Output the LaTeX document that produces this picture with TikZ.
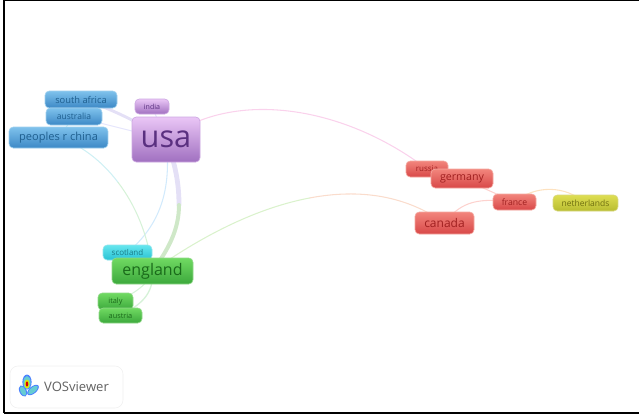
\documentclass[tikz,border=0pt]{standalone}
\usepackage{fontspec}
\setmainfont{Open Sans}
\usetikzlibrary{backgrounds}

\tikzset{
	wordbox/.style 2 args={rounded corners=3.2pt, inner sep=0pt, line width=0.5pt, minimum width=#1*0.75pt, minimum height=#2*0.75pt},
	wordsize/.style={font=\fontsize{#1}{#1}\selectfont},
	bluebox/.style={draw=blueEdge, top color=blueTop, bottom color=blueBot, text=blueTxt},
	purplebox/.style={draw=purpleEdge, top color=purpleTop, bottom color=purpleBot, text=purpleTxt},
	greenbox/.style={draw=greenEdge, top color=greenTop, bottom color=greenBot, text=greenTxt},
	cyanbox/.style={draw=cyanEdge, top color=cyanTop, bottom color=cyanBot, text=cyanTxt},
	redbox/.style={draw=redEdge, top color=redTop, bottom color=redBot, text=redTxt},
	yellowbox/.style={draw=yellowEdge, top color=yellowTop, bottom color=yellowBot, text=yellowTxt},
	link/.style={line width=0.8pt, line cap=round}
}
\definecolor{blueTop}{HTML}{7FC2EC}
\definecolor{blueBot}{HTML}{3C88C6}
\definecolor{blueEdge}{HTML}{A0D0EE}
\definecolor{blueTxt}{HTML}{1F5F8F}
\definecolor{purpleTop}{HTML}{EAC6F6}
\definecolor{purpleBot}{HTML}{A070C0}
\definecolor{purpleEdge}{HTML}{CDA8E2}
\definecolor{purpleTxt}{HTML}{5A3080}
\definecolor{greenTop}{HTML}{70DA62}
\definecolor{greenBot}{HTML}{3CA83C}
\definecolor{greenEdge}{HTML}{90D888}
\definecolor{greenTxt}{HTML}{1A6A1A}
\definecolor{cyanTop}{HTML}{66E6EE}
\definecolor{cyanBot}{HTML}{28C2D4}
\definecolor{cyanEdge}{HTML}{90E4EC}
\definecolor{cyanTxt}{HTML}{1A7C88}
\definecolor{redTop}{HTML}{F2857C}
\definecolor{redBot}{HTML}{D84848}
\definecolor{redEdge}{HTML}{F4A8A0}
\definecolor{redTxt}{HTML}{A02020}
\definecolor{yellowTop}{HTML}{DEDE52}
\definecolor{yellowBot}{HTML}{B8BC30}
\definecolor{yellowEdge}{HTML}{D8D880}
\definecolor{yellowTxt}{HTML}{707010}
\definecolor{linkLav}{HTML}{E4E0F6}
\definecolor{linkLavPale}{HTML}{E6E6FC}
\definecolor{linkSage}{HTML}{CFE8C8}
\definecolor{linkSky}{HTML}{D2EAFC}
\definecolor{linkTeal}{HTML}{CFF0F4}
\definecolor{linkMint}{HTML}{D6F2D8}
\definecolor{linkPink}{HTML}{FAD2EC}
\definecolor{linkLime}{HTML}{DAF2CC}
\definecolor{linkPeach}{HTML}{FADCCC}
\definecolor{linkRose}{HTML}{FDD2CE}
\definecolor{linkOrange}{HTML}{FDE2C0}

\begin{document}
\begin{tikzpicture}[x=0.75pt, y=-0.75pt]
	\useasboundingbox (0,0) rectangle (639,419);

	% clusters
	\node[wordbox={72}{17}, bluebox, wordsize=7] (southafrica) at (81,99.5) {south africa};
	\node[wordbox={56}{17}, bluebox, wordsize=6.4] (australia) at (74,116.5) {australia};
	\node[wordbox={99}{21}, bluebox, wordsize=8.3] (china) at (58.5,137.5) {peoples r china};
	\node[wordbox={34}{15}, purplebox, wordsize=5.3] (india) at (152,106.5) {india};
	\node[wordbox={68}{45}, purplebox, wordsize=23] (usa) at (166,139.5) {usa};
	\node[wordbox={49}{15}, cyanbox, wordsize=6] (scotland) at (127.5,252.5) {scotland};
	\node[wordbox={81}{26}, greenbox, wordsize=12] (england) at (152.5,271) {england};
	\node[wordbox={35}{17}, greenbox, wordsize=5.5] (italy) at (115.5,301.5) {italy};
	\node[wordbox={43}{15}, greenbox, wordsize=5.5] (austria) at (120.5,315.5) {austria};
	\node[wordbox={42}{16}, redbox, wordsize=6] (russia) at (427,169) {russia};
	\node[wordbox={62}{19}, redbox, wordsize=8] (germany) at (462,178.5) {germany};
	\node[wordbox={43}{16}, redbox, wordsize=6.5] (france) at (514.5,202) {france};
	\node[wordbox={65}{16}, yellowbox, wordsize=6.4] (netherlands) at (585.5,203) {netherlands};
	\node[wordbox={59}{22}, redbox, wordsize=9] (canada) at (444.5,223) {canada};

	\coordinate (usaMid) at (179,205);
	\coordinate (chinaMid) at (118.1,182.4);
	\coordinate (canadaMid) at (310,197.9);

	% links stay behind the words
	\begin{scope}[on background layer]
		\draw[link, line width=3.6pt, color=linkLav] (usa.center) .. controls (176,165) and (179,185) .. (usaMid);
		\draw[link, line width=3pt, color=linkSage] (usaMid) .. controls (179,230) and (168,250) .. (england.center);
		\draw[link, line width=2.2pt, color=linkLav] (southafrica.center) .. controls (105,106) and (135,120) .. (usa.center);
		\draw[link, color=linkLavPale] (australia.center) -- (usa.center);
		\draw[link, color=linkTeal] (australia.center) -- (china.center);
		\draw[link, color=linkLavPale] (india.center) -- (usa.center);
		\draw[link, color=linkSky] (usa.center) .. controls (172,190) and (160,225) .. (scotland.center);
		\draw[link, color=linkTeal] (china.center) .. controls (79,144) and (100.75,159.5) .. (chinaMid);
		\draw[link, color=linkMint] (chinaMid) .. controls (135.5,205.25) and (148.5,235.5) .. (england.center);
		\draw[link, color=linkPink] (usa.center) .. controls (230,90) and (340,103) .. (russia.center);
		\draw[link, color=linkLime] (england.center) .. controls (206,233) and (260,207.25) .. (canadaMid);
		\draw[link, color=linkPeach] (canadaMid) .. controls (360,188.5) and (406,195.5) .. (canada.center);
		\draw[link, color=linkMint] (england.center) .. controls (150,280) and (140,292) .. (italy.center);
		\draw[link, line width=1pt, color=linkMint] (england.center) .. controls (154,295) and (140,305) .. (austria.center);
		\draw[link, color=linkRose] (germany.center) -- (france.center);
		\draw[link, color=linkRose] (canada.center) .. controls (462,200) and (480,198) .. (france.center);
		\draw[link, color=linkOrange] (france.center) .. controls (535,185) and (565,185) .. (netherlands.center);
	\end{scope}

	% frame
	\draw[line width=1.1pt] (4,413) -- (4,0.5) -- (639,0.5);
	\draw[line width=1.1pt] (4,413) -- (639,413);

	% logo
	\draw[rounded corners=6pt, draw=black!6, fill=white] (10,366) rectangle (123,408);
	\fill[blue!70!cyan!70!white] (27,382) ellipse [x radius=4.6, y radius=7.5];
	\fill[blue!70!cyan!70!white, rotate around={25:(23,391)}] (23,391) ellipse [x radius=3.6, y radius=6];
	\fill[blue!70!cyan!70!white, rotate around={-50:(33,390)}] (33,390) ellipse [x radius=3.6, y radius=7];
	\fill[cyan!70!green!60!white] (27,382.5) ellipse [x radius=3.6, y radius=6.5];
	\fill[cyan!70!green!60!white, rotate around={25:(23,391)}] (23,391) ellipse [x radius=2.6, y radius=5];
	\fill[cyan!70!green!60!white, rotate around={-50:(33,390)}] (33,390) ellipse [x radius=2.6, y radius=6];
	\fill[yellow!85!green] (27,384) ellipse [x radius=2.6, y radius=4.5];
	\fill[red!85!black] (27,384) ellipse [x radius=1.3, y radius=2.6];
	\node[wordsize=9.8, text=black!62, inner sep=0pt] (logotext) at (76.5,386.5) {VOSviewer};
\end{tikzpicture}
\end{document}
